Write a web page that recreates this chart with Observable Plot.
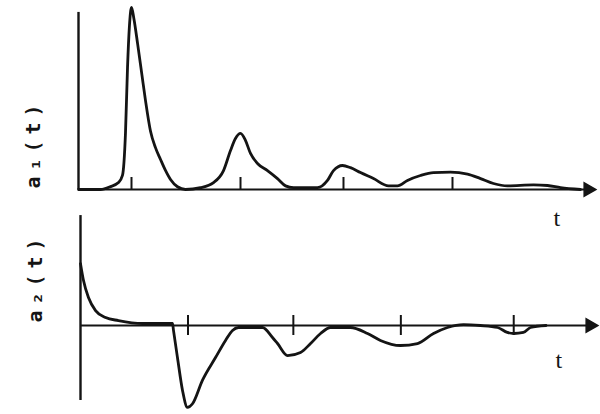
<!DOCTYPE html>
<html>
<head>
<meta charset="utf-8">
<script src="https://cdn.jsdelivr.net/npm/d3@7"></script>
<script src="https://cdn.jsdelivr.net/npm/@observablehq/plot@0.6"></script>
<style>
  html, body { margin: 0; padding: 0; background: #fff; }
  #wrap { position: relative; width: 600px; height: 414px; overflow: hidden; }
  #wrap svg { position: absolute; left: 0; }
</style>
</head>
<body>
<div id="wrap"></div>
<script>
// ---- data (t in units of the tick spacing) ----
const a1T = [0, 0.205, 0.298, 0.372, 0.409, 0.437, 0.456, 0.474, 0.493, 0.515, 0.55, 0.59, 0.623, 0.67, 0.716, 0.763, 0.809, 0.856, 0.921, 0.995,
  1.135, 1.256, 1.349, 1.414, 1.46, 1.507, 1.553, 1.6, 1.665, 1.758, 1.851, 1.926, 2.0,
  2.223, 2.316, 2.372, 2.456, 2.53, 2.623, 2.744, 2.884, 2.967,
  3.06, 3.181, 3.302, 3.46, 3.619, 3.74, 3.86, 3.99, 4.233, 4.363, 4.484, 4.67];
const a1V = [0, 0, 0.016, 0.038, 0.077, 0.31, 0.67, 0.9, 1.0, 0.94, 0.8, 0.63, 0.49, 0.32, 0.23, 0.165, 0.105, 0.055, 0.015, 0,
  0.01, 0.038, 0.104, 0.214, 0.28, 0.308, 0.27, 0.198, 0.143, 0.104, 0.06, 0.02, 0.01,
  0.01, 0.05, 0.104, 0.132, 0.12, 0.093, 0.06, 0.02, 0.02,
  0.05, 0.077, 0.093, 0.095, 0.085, 0.06, 0.033, 0.02, 0.025, 0.022, 0.01, 0];

const a2T = [0, 0.028, 0.074, 0.14, 0.233, 0.353, 0.577, 0.856, 0.865, 0.902, 0.949, 0.995, 1.042, 1.135, 1.256, 1.349, 1.414, 1.47,
  1.693, 1.786, 1.833, 1.926, 2.047, 2.14, 2.233, 2.326, 2.51, 2.67, 2.79, 2.977, 3.135, 3.284, 3.414, 3.563, 3.72,
  3.88, 3.97, 4.03, 4.12, 4.186, 4.33];
const a2V = [0.34, 0.247, 0.154, 0.082, 0.044, 0.027, 0.011, 0.011, -0.027, -0.176, -0.357, -0.45, -0.43, -0.30, -0.176, -0.082, -0.027, -0.011,
  -0.011, -0.066, -0.099, -0.165, -0.148, -0.099, -0.044, -0.011, -0.011, -0.044, -0.082, -0.11, -0.099, -0.044, -0.011, 0.005, 0,
  -0.011, -0.038, -0.044, -0.038, -0.011, 0];

const ticks1 = [0.493, 1.507, 2.465, 3.479];
const ticks2 = [1.0, 1.98, 2.98, 4.03];

const tEnd = 4.8;
const label1 = "a\u2081(t)";
const label2 = "a\u2082(t)";
const axisLabel = "t";

// ---- build tables ----
const a1 = a1T.map((t, i) => ({t, v: a1V[i]}));
const a2 = a2T.map((t, i) => ({t, v: a2V[i]}));

const ink = "#141414";
const labelFont = "'DejaVu Sans Mono', monospace";

function panel({data, ticks, xRange, yRange, height, axisTop, axisBottom, tickLo, tickHi, lab, labV, tV}) {
  return Plot.plot({
    width: 600,
    height,
    style: {background: "transparent", overflow: "visible"},
    x: {domain: [0, tEnd], range: xRange, axis: null},
    y: {domain: [0, 1], range: yRange, axis: null},
    marks: [
      Plot.ruleX([0], {y1: axisBottom, y2: axisTop, stroke: ink, strokeWidth: 2.4}),
      Plot.ruleY([0], {x1: 0, x2: tEnd - 0.05, stroke: ink, strokeWidth: 2.2}),
      Plot.dot([tEnd - 0.06], {x: d => d, y: 0, symbol: "triangle", rotate: 90, r: 5, fill: ink, stroke: ink}),
      Plot.ruleX(ticks, {x: d => d, y1: tickLo, y2: tickHi, stroke: ink, strokeWidth: 2}),
      Plot.line(data, {x: "t", y: "v", curve: "monotone-x", stroke: ink, strokeWidth: 2.8}),
      Plot.text([lab], {x: -0.42, y: labV, text: d => d, rotate: -90, fontSize: 20, fontFamily: labelFont, fontWeight: "bold", fill: ink}),
      Plot.text([axisLabel], {x: 4.45, y: tV, text: d => d, fontSize: 24, fontFamily: "'Liberation Serif', serif", fill: ink})
    ]
  });
}

const topPanel = panel({
  data: a1, ticks: ticks1,
  xRange: [78, 594], yRange: [189, 7], height: 240,
  axisTop: 0.973, axisBottom: 0, tickLo: 0, tickHi: 0.066,
  lab: label1, labV: 0.253, tV: -0.16
});
topPanel.style.top = "0px";

const bottomPanel = panel({
  data: a2, ticks: ticks2,
  xRange: [80, 596], yRange: [125, -57], height: 214,
  axisTop: 0.604, axisBottom: -0.412, tickLo: -0.055, tickHi: 0.055,
  lab: label2, labV: 0.264, tV: -0.192
});
bottomPanel.style.top = "200px";

const wrap = document.getElementById("wrap");
wrap.appendChild(topPanel);
wrap.appendChild(bottomPanel);

// spaced-out typewriter look for the rotated axis labels
d3.select(wrap).selectAll("text")
  .filter(function() { return (this.getAttribute("transform") || "").includes("rotate"); })
  .style("letter-spacing", "6px");
</script>
</body>
</html>
